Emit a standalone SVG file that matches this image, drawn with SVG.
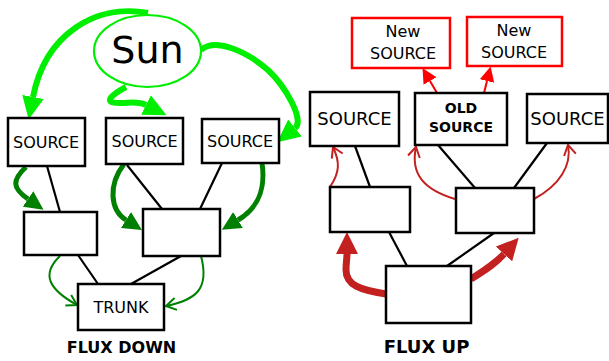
<svg xmlns="http://www.w3.org/2000/svg" width="609" height="361" viewBox="0 0 609 361">
<style>
.box{fill:#fff;stroke:#000;stroke-width:2.5}
.nbox{fill:#fff;stroke:#f00;stroke-width:2.5}
.t{font-family:"DejaVu Sans",sans-serif;fill:#000;text-anchor:middle}
.b{font-weight:bold}
.ln{stroke:#000;stroke-width:2.2;fill:none}
.lg{stroke:#00ee00;stroke-width:6;fill:none}
.dg{stroke:#008000;stroke-width:5;fill:none}
.dgt{stroke:#008000;stroke-width:2;fill:none}
.rd{stroke:#c32020;stroke-width:7;fill:none}
.rdt{stroke:#c32020;stroke-width:2;fill:none}
.rb{stroke:#f00;stroke-width:2;fill:none}
</style>
<defs>
<marker id="mLG" markerUnits="userSpaceOnUse" markerWidth="24" markerHeight="24" refX="0" refY="10" orient="auto" viewBox="0 0 22 20"><path d="M0,0 L21,10 L0,20 Z" fill="#00ee00"/></marker>
<marker id="mDG" markerUnits="userSpaceOnUse" markerWidth="20" markerHeight="20" refX="0" refY="8" orient="auto" viewBox="0 0 17 16"><path d="M0,0 L16,8 L0,16 Z" fill="#008000"/></marker>
<marker id="cDG" markerUnits="userSpaceOnUse" markerWidth="14" markerHeight="16" refX="11" refY="7" orient="auto" viewBox="0 0 14 14"><path d="M1,1 L11,7 L1,13" fill="none" stroke="#008000" stroke-width="2"/></marker>
<marker id="mRD" markerUnits="userSpaceOnUse" markerWidth="23" markerHeight="23" refX="0" refY="10.5" orient="auto" viewBox="0 0 22 21"><path d="M0,0 L21,10.5 L0,21 Z" fill="#c32020"/></marker>
<marker id="cRD" markerUnits="userSpaceOnUse" markerWidth="14" markerHeight="16" refX="11" refY="7" orient="auto" viewBox="0 0 14 14"><path d="M1,1 L11,7 L1,13" fill="none" stroke="#c32020" stroke-width="2"/></marker>
<marker id="mRB" markerUnits="userSpaceOnUse" markerWidth="16" markerHeight="16" refX="0" refY="7" orient="auto" viewBox="0 0 15 14"><path d="M0,0 L14,7 L0,14 Z" fill="#f00"/></marker>
</defs>

<g id="connectors">
<!-- black tree lines left -->
<path class="ln" d="M47,166 L60,212"/>
<path class="ln" d="M127,165 L162,209"/>
<path class="ln" d="M222,163 L200,209"/>
<path class="ln" d="M78,255 L98,284"/>
<path class="ln" d="M181,256 L131,284"/>
<!-- black tree lines right -->
<path class="ln" d="M355,146 L370,187"/>
<path class="ln" d="M438,145 L475,188"/>
<path class="ln" d="M547,143 L514,188"/>
<path class="ln" d="M389,232 L407,266"/>
<path class="ln" d="M494,233 L447,266"/>
<!-- sun arrows -->
<path class="lg" d="M148,13 C95,3 45,35 33,97" marker-end="url(#mLG)"/>
<path class="lg" d="M126,87 C106,98 104,104 124,103 C134,102 140,102 146,105" marker-end="url(#mLG)"/>
<path class="lg" d="M201,50 C215,38 245,50 268,70 C285,86 305,120 295,128" marker-end="url(#mLG)"/>
<!-- flux down -->
<path class="dg" d="M26,167 C12,180 12,188 28,199" marker-end="url(#mDG)"/>
<path class="dg" d="M124,164 C108,185 110,210 126,220" marker-end="url(#mDG)"/>
<path class="dg" d="M262,163 C266,190 258,208 238,220" marker-end="url(#mDG)"/>
<path class="dgt" d="M60,256 C40,275 50,290 77,305" marker-end="url(#cDG)"/>
<path class="dgt" d="M201,256 C210,290 195,300 166,306" marker-end="url(#cDG)"/>
<!-- flux up -->
<path class="rd" d="M386,294 C360,290 346,285 346,270 C346,263 347,258 347,254" marker-end="url(#mRD)"/>
<path class="rd" d="M471,279 C485,270 495,264 504,254" marker-end="url(#mRD)"/>
<path class="rdt" d="M330,187 C340,172 340,162 333,147" marker-end="url(#cRD)"/>
<path class="rdt" d="M455,199 C425,190 410,175 416,147" marker-end="url(#cRD)"/>
<path class="rdt" d="M534,199 C560,185 572,165 568,145" marker-end="url(#cRD)"/>
<path class="rb" d="M437,93 L430,81" marker-end="url(#mRB)"/>
<path class="rb" d="M484,93 L487,81" marker-end="url(#mRB)"/>
</g>

<g id="sun">
<ellipse cx="147.5" cy="51" rx="53.5" ry="36" fill="#fff" stroke="#00ee00" stroke-width="2.2"/>
<text class="t" x="147.5" y="63" font-size="38">Sun</text>
</g>
<g id="source1"><rect class="box" x="8" y="118" width="77" height="48"/><text class="t" x="46" y="148" font-size="16">SOURCE</text></g>
<g id="source2"><rect class="box" x="106" y="118" width="77" height="46"/><text class="t" x="144.5" y="147" font-size="16">SOURCE</text></g>
<g id="source3"><rect class="box" x="202" y="119" width="77" height="44"/><text class="t" x="240" y="147" font-size="16">SOURCE</text></g>
<g id="midLeft"><rect class="box" x="24" y="212" width="73" height="43"/></g>
<g id="midRight"><rect class="box" x="143" y="209" width="77" height="47"/></g>
<g id="trunk"><rect class="box" x="78" y="284" width="86" height="46"/><text class="t" x="121" y="313" font-size="16">TRUNK</text></g>
<g id="fluxDownLabel"><text class="t b" x="121.5" y="353" font-size="16">FLUX DOWN</text></g>

<g id="newSource1"><rect class="nbox" x="352" y="18" width="98" height="50"/><text class="t" x="403" y="37" font-size="16">New</text><text class="t" x="403" y="59" font-size="16">SOURCE</text></g>
<g id="newSource2"><rect class="nbox" x="467" y="17" width="95" height="49"/><text class="t" x="514" y="36" font-size="16">New</text><text class="t" x="514" y="58" font-size="16">SOURCE</text></g>
<g id="sourceR1"><rect class="box" x="310" y="92" width="89" height="54"/><text class="t" x="354.5" y="125" font-size="18">SOURCE</text></g>
<g id="oldSource"><rect class="box" x="415" y="93" width="92" height="52"/><text class="t b" x="461" y="113" font-size="14">OLD</text><text class="t b" x="461" y="132" font-size="14">SOURCE</text></g>
<g id="sourceR3"><rect class="box" x="527" y="94" width="81" height="49"/><text class="t" x="567.5" y="125" font-size="18">SOURCE</text></g>
<g id="midLeftR"><rect class="box" x="330" y="187" width="80" height="45"/></g>
<g id="midRightR"><rect class="box" x="456" y="188" width="78" height="45"/></g>
<g id="trunkR"><rect class="box" x="386" y="266" width="85" height="57"/></g>
<g id="fluxUpLabel"><text class="t b" x="426.5" y="353" font-size="18">FLUX UP</text></g>
</svg>
